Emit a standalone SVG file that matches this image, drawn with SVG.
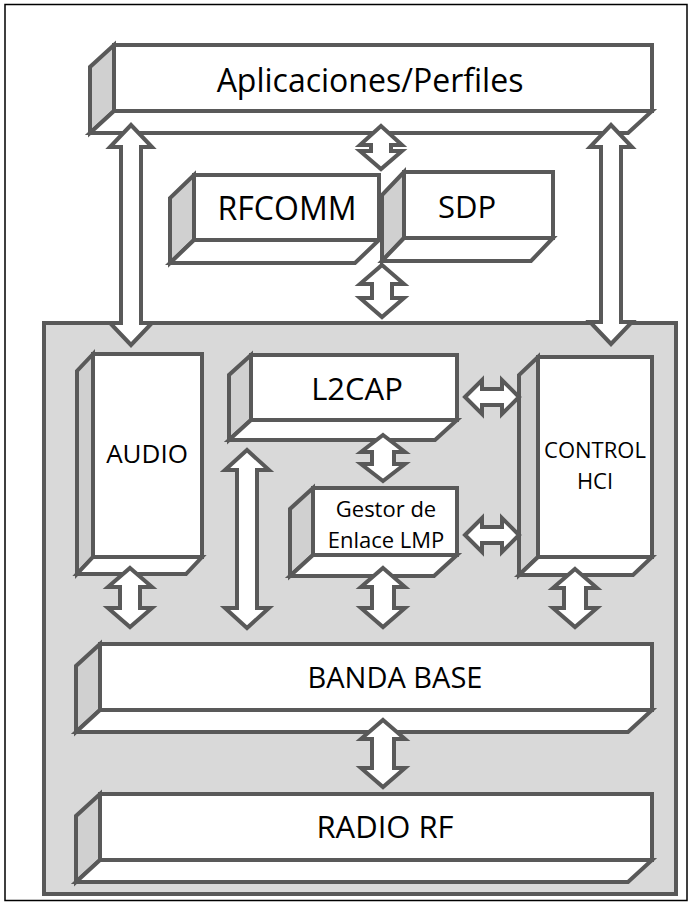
<svg xmlns="http://www.w3.org/2000/svg" width="692" height="905" viewBox="0 0 692 905">
  <style>
    .front { fill: #ffffff; stroke: #595959; stroke-width: 4; stroke-linejoin: miter; }
    .side { fill: #d0d0d0; stroke: #595959; stroke-width: 4; stroke-linejoin: miter; }
    .base { fill: #ffffff; stroke: #595959; stroke-width: 4; stroke-linejoin: miter; }
    .panel { fill: #d9d9d9; stroke: #595959; stroke-width: 4; }
    .arrow { fill: #ffffff; stroke: #595959; stroke-width: 4; stroke-linejoin: miter; stroke-miterlimit: 10; }
    .lbl { font-family: "Open Sans", "Liberation Sans", sans-serif; fill: #000000; text-anchor: middle; }
  </style>

  <!-- page frame -->
  <rect x="5" y="4.5" width="682" height="896" fill="#ffffff" stroke="#000000" stroke-width="1.5"/>

  <!-- controller area -->
  <g id="controller-area">
    <rect class="panel" x="44" y="323" width="632" height="571"/>
  </g>

  <!-- 3D blocks: side face, bottom face, front face -->
  <g id="aplicaciones">
    <polygon class="side" points="114,45 90,67 90,133 114,111"/>
    <polygon class="base" points="114,111 652,111 628,133 90,133"/>
    <rect class="front" x="114" y="45" width="538" height="66"/>
    <text class="lbl" x="370" y="92" font-size="32">Aplicaciones/Perfiles</text>
  </g>

  <g id="rfcomm">
    <polygon class="side" points="194,175 170,198 170,263 194,240"/>
    <polygon class="base" points="194,240 379,240 355,263 170,263"/>
    <rect class="front" x="194" y="175" width="185" height="65"/>
    <text class="lbl" x="287" y="220" font-size="32">RFCOMM</text>
  </g>

  <g id="sdp">
    <polygon class="side" points="404,172 382,195 382,261 404,238"/>
    <polygon class="base" points="404,238 553,238 531,261 382,261"/>
    <rect class="front" x="404" y="172" width="149" height="66"/>
    <text class="lbl" x="467" y="218" font-size="31">SDP</text>
  </g>

  <g id="audio">
    <polygon class="side" points="93,354 77,371 77,574 93,557"/>
    <polygon class="base" points="93,557 202,557 186,574 77,574"/>
    <rect class="front" x="93" y="354" width="109" height="203"/>
    <text class="lbl" x="147" y="463" font-size="26">AUDIO</text>
  </g>

  <g id="l2cap">
    <polygon class="side" points="251,355 229,375 229,440 251,420"/>
    <polygon class="base" points="251,420 457,420 435,440 229,440"/>
    <rect class="front" x="251" y="355" width="206" height="65"/>
    <text class="lbl" x="357" y="400" font-size="31">L2CAP</text>
  </g>

  <g id="gestor-lmp">
    <polygon class="side" points="313,488 290,509 290,576 313,555"/>
    <polygon class="base" points="313,555 457,555 434,576 290,576"/>
    <rect class="front" x="313" y="488" width="144" height="67"/>
    <text class="lbl" x="386" y="517" font-size="22">Gestor de</text>
    <text class="lbl" x="386" y="548" font-size="22">Enlace LMP</text>
  </g>

  <g id="control-hci">
    <polygon class="side" points="538,357 519,375 519,575 538,557"/>
    <polygon class="base" points="538,557 652,557 633,575 519,575"/>
    <rect class="front" x="538" y="357" width="114" height="200"/>
    <text class="lbl" x="595" y="458" font-size="22">CONTROL</text>
    <text class="lbl" x="595" y="489" font-size="22">HCI</text>
  </g>

  <g id="banda-base">
    <polygon class="side" points="100,644 76,666 76,732 100,710"/>
    <polygon class="base" points="100,710 652,710 628,732 76,732"/>
    <rect class="front" x="100" y="644" width="552" height="66"/>
    <text class="lbl" x="395" y="688" font-size="29">BANDA BASE</text>
  </g>

  <g id="radio-rf">
    <polygon class="side" points="100,794 76,816 76,882 100,860"/>
    <polygon class="base" points="100,860 652,860 628,882 76,882"/>
    <rect class="front" x="100" y="794" width="552" height="66"/>
    <text class="lbl" x="385" y="838" font-size="31">RADIO RF</text>
  </g>

  <!-- double-headed block arrows -->
  <g id="connectors">
    <!-- Aplicaciones <-> AUDIO -->
    <polygon class="arrow" points="131,125 152,147 141,147 141,323 152,323 131,345 110,323 121,323 121,147 110,147"/>
    <!-- Aplicaciones <-> CONTROL HCI -->
    <polygon class="arrow" points="611,125 632,147 621,147 621,322 632,322 611,344 590,322 601,322 601,147 590,147"/>
    <!-- Aplicaciones <-> RFCOMM / SDP -->
    <polygon class="arrow" points="381,126 402,145 391,145 391,151 402,151 381,169 360,151 371,151 371,145 360,145"/>
    <!-- RFCOMM / SDP <-> L2CAP -->
    <polygon class="arrow" points="382,265 404,284 392,284 392,298 404,298 382,317 360,298 372,298 372,284 360,284"/>
    <!-- AUDIO <-> BANDA BASE -->
    <polygon class="arrow" points="130,568 152,587 140,587 140,608 152,608 130,627 108,608 120,608 120,587 108,587"/>
    <!-- L2CAP <-> BANDA BASE -->
    <polygon class="arrow" points="247,450 269,470 257,470 257,608 269,608 247,628 225,608 237,608 237,470 225,470"/>
    <!-- L2CAP <-> Gestor LMP -->
    <polygon class="arrow" points="383,435 405,452 394,452 394,464 405,464 383,481 361,464 372,464 372,452 361,452"/>
    <!-- Gestor LMP <-> BANDA BASE -->
    <polygon class="arrow" points="383,568 405,587 394,587 394,608 405,608 383,627 361,608 372,608 372,587 361,587"/>
    <!-- CONTROL HCI <-> BANDA BASE -->
    <polygon class="arrow" points="575,569 597,588 586,588 586,608 597,608 575,627 553,608 564,608 564,588 553,588"/>
    <!-- BANDA BASE <-> RADIO RF -->
    <polygon class="arrow" points="383,720 405,739 394,739 394,768 405,768 383,787 361,768 372,768 372,739 361,739"/>
    <!-- L2CAP <-> CONTROL HCI -->
    <polygon class="arrow" points="465,397 482,380 482,389 502,389 502,380 519,397 502,414 502,405 482,405 482,414"/>
    <!-- Gestor LMP <-> CONTROL HCI -->
    <polygon class="arrow" points="465,535 482,518 482,527 502,527 502,518 519,535 502,552 502,543 482,543 482,552"/>
  </g>
</svg>
